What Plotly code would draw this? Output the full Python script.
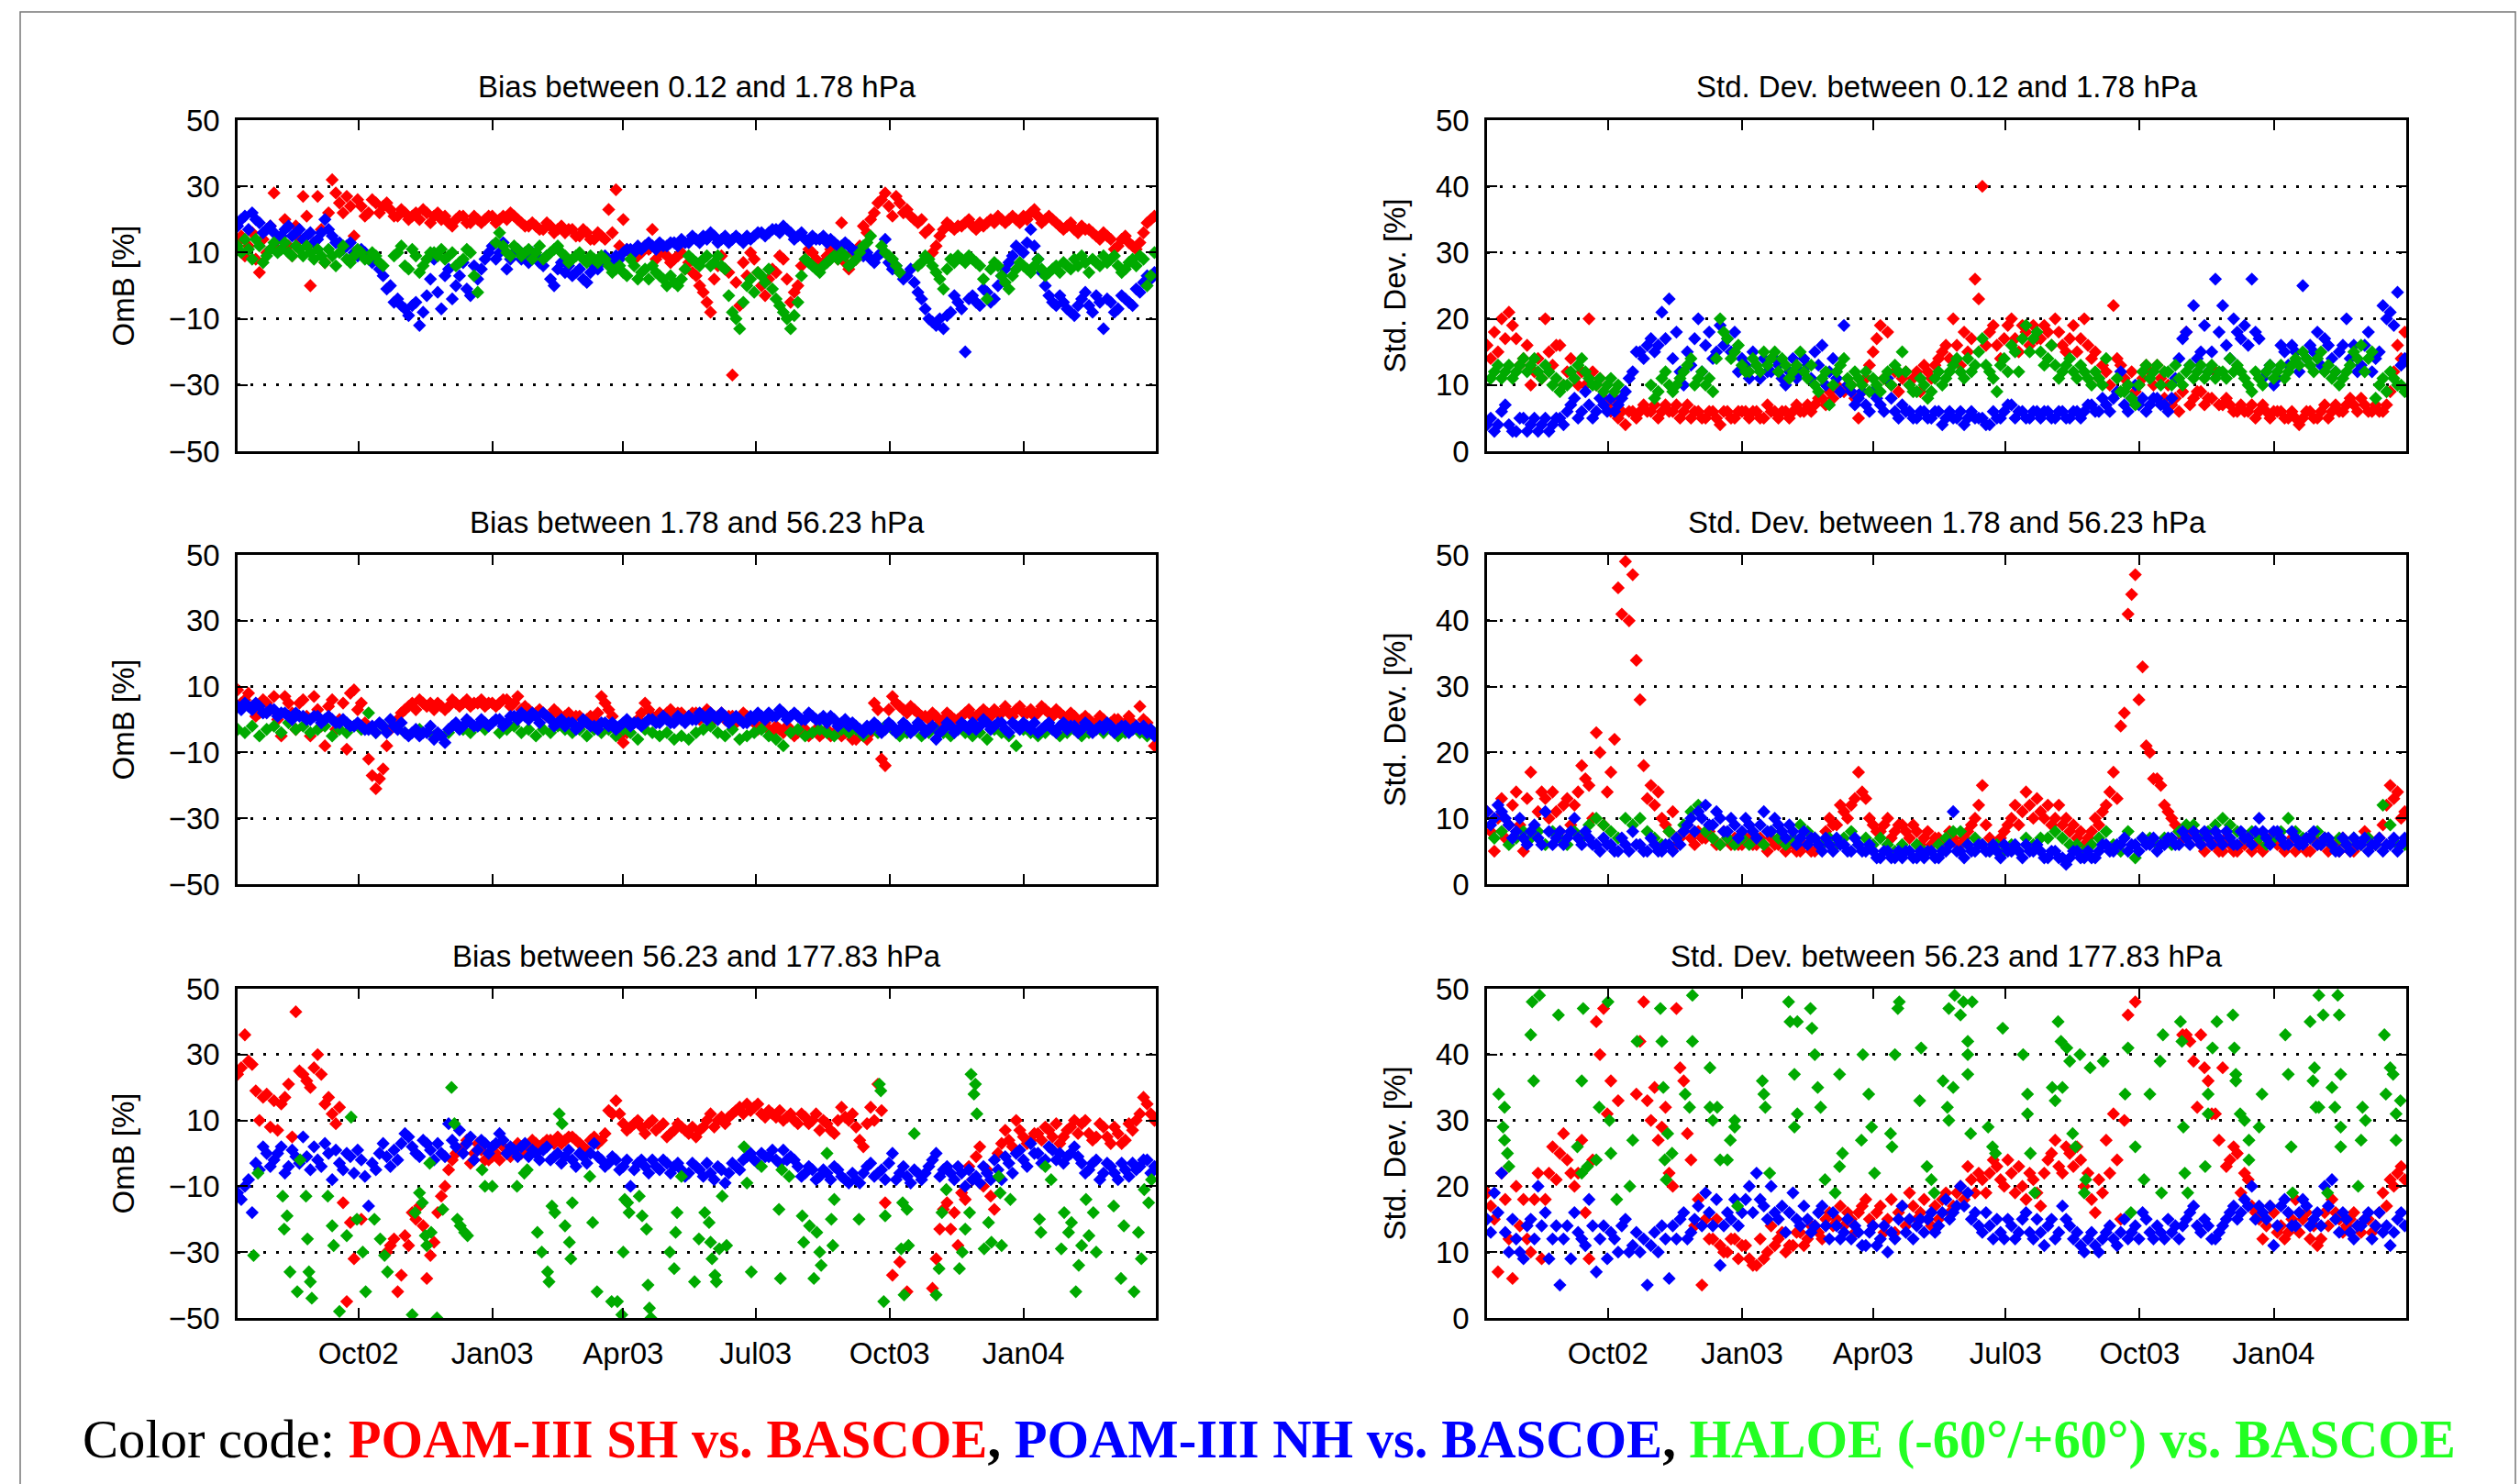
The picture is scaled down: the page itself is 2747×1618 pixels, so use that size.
import pandas as pd
import plotly.graph_objects as go

# ---------------------------------------------------------------- data ----
START = pd.Timestamp("2002-07-10")      # first sample of the regular series
STEP_DAYS = 5                           # "A" series: every 5 days from START
HALF_STEP_HOURS = 60                    # "B" series: offset 2.5 days from "A"
X_RANGE = ["2002-07-10", "2004-04-01"]
TICK_DATES = ["2002-10-01", "2003-01-01", "2003-04-01", "2003-07-01", "2003-10-01", "2004-01-01"]
TICK_LABELS = ["Oct02", "Jan03", "Apr03", "Jul03", "Oct03", "Jan04"]
BIAS_TICKS = [-50, -30, -10, 10, 30, 50]
STD_TICKS = [0, 10, 20, 30, 40, 50]

# --- Bias between 0.12 and 1.78 hPa
TL_SH = [13, 9, 16, 4, 10, 28, 15, 12, 18, 27, 0, 27, 7, 32, 25, 27, 15, 24, 22, 25,
         24, 23, 21, 22, 21, 20, 22, 21, 20, 19, 20, 21, 19, 20, 20, 21, 20, 20, 21, 19,
         18, 18, 17, 18, 17, 16, 17, 15, 16, 14, 15, 23, 29, 20, 10, 9, 12, 17, 10, 9,
         8, 10, 7, 3, -2, -8, 6, 5, -27, -6, 3, 8, 0, 2, 4, 8, -5, 0, 8, 10,
         6, 9, 10, 19, 5, 8, 18, 20, 25, 28, 21, 25, 23, 20, 20, 17, 12, 17, 18, 18,
         19, 18, 19, 19, 19, 20, 20, 20, 21, 22, 21, 20, 20, 18, 18, 17, 18, 17, 15, 16,
         14, 12, 15, 12, 13, 19, 21]
TL_SH_B = [15, 12, 8, 14, 18, 11, 20, 9, 14, 21, 13, 17, 22, 28, 22, 24, 26, 21, 26, 22,
           25, 21, 23, 20, 22, 23, 19, 22, 21, 18, 21, 19, 21, 19, 21, 19, 21, 22, 20, 18,
           19, 17, 19, 16, 18, 17, 15, 17, 14, 16, 14, 16, 12, 11, 8, 10, 11, 8, 10, 7,
           9, 5, 4, 0, -5, 2, 9, 4, 1, 7, 10, 4, -3, 5, 9, 2, -2, 6, 11, 8,
           7, 11, 8, 7, 10, 12, 16, 22, 26, 24, 27, 22, 21, 19, 16, 10, 15, 19, 17, 18,
           20, 17, 18, 20, 21, 19, 21, 19, 20, 23, 19, 21, 19, 17, 19, 16, 17, 16, 14, 15,
           11, 14, 13, 11, 16, 20]
TL_NH = [18, 21, 22, 19, 17, 16, 15, 18, 16, 14, 16, 14, 20, 15, 13, 12, 10, 11, 9, 8,
         3, 0, -4, -7, -6, -12, -3, 8, -7, 5, 0, 7, -3, 2, 8, 12, 10, 5, 10, 8,
         7, 9, 6, 2, 5, 4, 3, 5, 1, 6, 7, 8, 9, 10, 11, 12, 12, 12, 13, 12,
         13, 14, 13, 14, 15, 16, 13, 15, 14, 14, 15, 15, 16, 16, 17, 18, 16, 15, 14, 15,
         14, 13, 13, 12, 12, 10, 9, 8, 9, 14, 5, 4, 3, 1, -4, -10, -12, -13, -8, -5,
         -20, -3, -6, -2, -4, 3, 7, 12, 10, 17, 8, 0, -5, -3, -7, -9, -4, -6, -3, -13,
         -5, -7, -4, -6, -2, 3, 4]
TL_NH_B = [20, 17, 20, 16, 18, 14, 17, 15, 17, 15, 13, 16, 17, 13, 11, 13, 9, 10, 7, 5,
           -1, -5, -6, -9, -5, -8, 2, -2, 3, -4, 3, -1, 6, 5, 10, 8, 13, 8, 11, 9,
           10, 7, 9, 0, 7, 6, 4, 2, 4, 5, 9, 7, 8, 11, 10, 11, 13, 11, 12, 13,
           12, 13, 15, 13, 14, 15, 14, 13, 15, 13, 14, 16, 15, 17, 16, 17, 14, 16, 13, 14,
           15, 14, 12, 13, 11, 11, 10, 7, 10, 7, 6, 2, 5, -2, -7, -11, -10, -9, -3, -7,
           -4, -5, -1, -5, 0, 5, 9, 11, 13, 12, 4, -3, -6, -5, -8, -6, -2, -8, -5, -4,
           -8, -3, -5, -1, 1, 2]
TL_HALOE = [12, 14, 8, 12, 9, 13, 11, 10, 12, 9, 10, 11, 7, 9, 10, 8, 9, 10, 8, 9,
            6, None, 10, 6, 11, 4, 8, 10, 11, 9, 6, 8, 10, -2, None, None, 16, 10, 12, 9,
            11, 10, 8, 10, 12, 9, 8, 10, 7, 8, 9, 6, 5, 4, 8, 2, 5, 6, 3, 0,
            1, 2, 9, 7, 8, 6, 9, 5, -8, -13, 0, -2, 3, 5, -4, -8, -13, -5, 8, 6,
            4, 7, 9, 10, 6, 8, 12, 15, None, 10, 8, 4, None, None, 7, 8, 4, -1, 8, 9,
            7, 8, 6, -4, 7, 3, -1, 5, 6, 4, 8, 3, 5, 4, 6, 8, 9, 4, 7, 9,
            8, 6, 5, 8, 9, 0, 10]
TL_HALOE_B = [10, 11, 14, 7, 11, 10, 13, 9, 11, 12, 8, 9, 11, 6, 12, 7, 11, 8, 10, 7,
              None, 9, 12, 5, 9, 6, 10, 9, 8, 10, 7, 11, 3, None, None, 13, 12, 9, 11, 10,
              8, 12, 9, 11, 10, 7, 9, 8, 9, 7, 8, 4, 6, 3, 6, 4, 2, 4, 2, 3,
              0, 5, 8, 6, 9, 7, 6, -3, -10, -5, 2, 4, 1, -1, -6, -10, -9, 3, 7, 5,
              6, 8, 8, 9, 7, 10, 13, None, 12, 9, 6, None, None, 6, 9, 6, 2, 5, 7, 8,
              9, 7, 2, 5, 6, 1, 3, 7, 5, 6, 5, 4, 6, 7, 5, 6, 7, 8, 6, 7,
              9, 4, 7, 6, 8, 3]

# --- Std. Dev. between 0.12 and 1.78 hPa
TR_SH = [16, 18, 20, 21, 17, 14, 10, 14, 20, 13, 16, 12, 11, 12, 20, 10, 8, 6, 5, 4,
         6, 6, 6, 7, 6, 6, 7, 6, 5, 6, 5, 6, 4, 6, 5, 6, 5, 6, 5, 6,
         5, 6, 6, 6, 7, 7, 8, 9, 10, 9, 10, 5, 11, 15, 19, 18, 12, 11, 10, 12,
         13, 11, 14, 16, 20, 13, 15, 26, 40, 18, 16, 17, 20, 15, 18, 19, 17, 18, 20, 16,
         17, 15, 20, 14, 11, 12, 22, 13, 10, 9, 11, 12, 13, 8, 7, 6, 18, 8, 9, 8,
         12, 7, 7, 6, 6, 7, 6, 6, 6, 6, 5, 5, 5, 6, 5, 7, 6, 6, 7, 7,
         8, 6, 7, 6, 9, 16, 18]
TR_SH_B = [14, 15, 17, 19, 13, 16, 12, 11, 15, 16, 10, 14, 10, 10, 12, 11, 7, 8, 6, 6,
           5, 7, 6, 5, 7, 6, 5, 7, 6, 5, 6, 5, 6, 5, 6, 6, 6, 5, 7, 6,
           6, 5, 7, 6, 6, 8, 7, 8, 9, 10, 8, 9, 13, 17, 11, 10, 9, 12, 11, 9,
           12, 13, 15, 14, 16, 18, 17, 23, 16, 19, 14, 19, 17, 19, 16, 17, 19, 16, 18, 15,
           19, 17, 16, 15, 13, 10, 14, 11, 12, 10, 13, 10, 11, 10, 8, 9, 7, 9, 7, 8,
           7, 8, 6, 7, 6, 5, 7, 5, 6, 5, 6, 4, 6, 5, 6, 5, 7, 6, 8, 6,
           7, 6, 6, 7, 12, 14]
TR_NH = [4, 3, 6, 4, 3, 5, 4, 3, 5, 4, 5, 6, 8, 6, 7, 6, 7, 8, 7, 9,
         12, 15, 16, 15, 21, 23, 18, 10, 13, 20, 16, 14, 19, 17, 18, 14, 11, 13, 14, 12,
         13, 10, 14, 12, 13, 15, 16, 12, 11, 19, 9, 8, 7, 9, 7, 11, 6, 7, 6, 5,
         6, 5, 6, 5, 5, 6, 5, 5, 5, 4, 5, 6, 7, 6, 5, 6, 5, 6, 5, 6,
         5, 6, 6, 7, 6, 7, 8, 12, 6, 10, 8, 7, 8, 7, 8, 14, 18, 22, 15, 12,
         26, 22, 14, 18, 19, 26, 17, 12, 10, 16, 13, 15, 25, 16, 18, 17, 14, 15, 20, 16,
         13, 18, 14, 22, 21, 24, 14]
TR_NH_B = [5, 4, 7, 3, 5, 3, 5, 4, 3, 5, 4, 7, 5, 9, 5, 8, 6, 6, 8, 11,
           15, 14, 17, 16, 17, 14, 12, 15, 17, 12, 18, 15, 16, 15, 12, 13, 15, 11, 12, 14,
           11, 12, 11, 14, 11, 13, 10, 14, 9, 10, 7, 9, 6, 8, 6, 8, 5, 6, 5, 6,
           5, 6, 4, 6, 5, 4, 6, 5, 4, 6, 5, 7, 5, 6, 5, 6, 6, 5, 6, 5,
           6, 5, 7, 6, 8, 6, 9, 7, 8, 7, 6, 8, 7, 6, 11, 17, 13, 14, 19, 15,
           18, 16, 20, 17, 16, 18, 11, 13, 11, 15, 16, 12, 14, 15, 13, 16, 12, 16, 14, 12,
           16, 12, 15, 20, 19, 13]
TR_HALOE = [None, 12, 11, 13, 12, 14, 13, 12, 13, 10, 9, 10, 11, 14, 11, 10, 9, 11, 10, None,
            None, None, None, 8, 11, 10, 10, 12, 14, 11, 10, 9, 20, 17, 15, 13, 12, 13, 15, 14,
            12, 13, 12, 15, 11, 10, 11, 7, 12, 14, 10, 11, 12, 11, 9, 12, 13, 15, 10, 9,
            10, 9, 12, 11, 13, 12, 14, 13, 17, 12, 9, 14, 16, 12, 19, 17, 15, 14, 13, 12,
            14, 11, 12, 10, 11, 14, None, 9, 10, 7, 12, 11, 13, 12, 10, 11, 12, 11, 13, 12,
            11, 12, 14, 13, 11, 9, 11, 12, 11, 13, 12, 14, 15, 13, 14, 12, 11, 10, 12, 15,
            16, 14, 8, 11, 12, 10, 9]
TR_HALOE_B = [11, 13, 12, 11, 13, 12, 14, 11, 12, 11, 10, 12, 13, 12, 10, 11, 10, 9, None, None,
              None, None, 10, 9, 12, 9, 11, 13, 10, 12, 11, 14, 18, 14, 16, 12, 14, 12, 13, 15,
              14, 11, 13, 12, 13, 9, 12, 10, 13, 11, 12, 10, 9, 10, 11, 10, 12, 12, 9, 11,
              8, 11, 10, 12, 14, 11, 12, 15, 13, 11, 13, 12, 15, 17, 15, 18, 13, 16, 11, 13,
              12, 13, 11, 12, 10, None, 11, 9, 8, 10, 13, 12, 10, 12, 13, 10, 13, 12, 11, 13,
              12, 11, 12, 12, 10, 12, 10, 13, 12, 11, 13, 13, 14, 12, 15, 13, 12, 11, 13, 14,
              12, 15, 10, 9, 11, 10]

# --- Bias between 1.78 and 56.23 hPa
ML_SH = [9, 6, 4, 2, 5, 7, -5, 5, -3, 6, -5, 3, -8, 6, 0, -9, 9, 5, -12, -21,
         -15, -3, 0, 3, 5, 6, 4, 3, 4, 4, 5, 5, 4, 5, 4, 5, 5, 6, 5, 3,
         3, 2, 2, 1, 2, 1, 0, 1, 0, 0, 7, 3, -3, -7, -2, 0, 5, 1, 2, 2,
         1, 2, 1, 2, 1, 2, 1, 0, 1, 0, 1, -1, -2, -3, -2, -4, -3, -4, -3, -4,
         -5, -3, -4, -5, -4, -6, -5, -4, 3, -14, 7, 4, 2, 3, 1, 0, 1, 0, 1, 0,
         2, 1, 2, 2, 3, 2, 2, 3, 2, 3, 2, 3, 1, 2, 0, 1, 0, 0, -1, 0,
         -1, 0, -1, -1, 4, -1, -8]
ML_SH_B = [5, 8, 1, 6, 3, 0, 7, 2, 5, 1, 7, -2, 4, -3, 5, 8, 3, -1, -17, -18,
           -8, -1, 2, 4, 3, 5, 5, 5, 3, 6, 4, 6, 5, 6, 5, 4, 6, 4, 7, 4,
           2, 3, 1, 3, 0, 2, 1, -1, 1, 2, 5, 1, -5, -4, -1, 2, 3, 0, 1, 3,
           2, 0, 2, 0, 3, 0, 2, 1, -1, 2, 0, -3, -1, -4, -3, -2, -5, -3, -5, -3,
           -4, -5, -3, -4, -6, -4, -6, 5, -12, 3, 5, 3, 4, 2, 1, 2, -1, 2, 0, 1,
           3, 1, 3, 1, 2, 4, 1, 4, 2, 1, 4, 2, 3, 1, 2, -1, 1, -1, 1, -2,
           0, -2, 1, -2, 0, -3]
ML_NH = [4, 5, 3, 4, 2, 3, 2, 1, 2, 1, 0, 1, 0, 0, -1, -1, -2, -2, -3, -4,
         -2, 0, -3, -4, -4, -5, -4, -6, -5, -3, -1, -2, -1, -2, -1, -1, 0, -1, 1, 2,
         0, 1, 2, 0, -1, -2, -1, -2, -1, -2, -1, -2, -3, -1, -2, -1, -1, 0, -1, 0,
         -1, 0, 1, 0, 1, 2, 0, 1, 0, 0, -1, 0, 1, 2, 1, 2, 1, 1, 0, 1,
         0, -1, 0, -1, -2, -2, -4, -3, -2, -3, -2, -3, -2, -3, -2, -3, -6, -3, -2, -3,
         -2, -1, -2, -1, -2, -1, -4, -2, -1, -3, -4, -2, -3, -2, -3, -2, -3, -2, -3, -3,
         -2, -3, -2, -3, -3, -4, -5]
ML_NH_B = [3, 4, 5, 2, 3, 1, 2, 0, 1, 0, 1, -1, 1, -1, 0, -2, -1, -3, -2, -1,
           -4, -2, -1, -5, -3, -4, -2, -4, -7, -2, -3, 0, -2, 0, -2, 0, -2, 1, 0, 1,
           2, -1, 1, -2, 0, -1, -3, 0, -2, -3, -1, -1, -2, 0, -1, -2, 0, -1, 1, -1,
           1, -1, 0, 2, 0, 1, 2, -1, 1, -1, 1, 2, 0, 1, 3, 0, 2, 0, 2, 0,
           1, 1, -2, 0, -1, -3, -2, -1, -4, -1, -4, -1, -4, -1, -4, -2, -4, -1, -4, -1,
           -3, -3, 0, -3, -1, -3, -1, -3, -2, -1, -3, -1, -4, -1, -2, -4, -1, -4, -2, -1,
           -4, -2, -4, -2, -2, -3]
ML_HALOE = [-3, -4, -2, -5, -3, -2, -4, -1, -3, -2, -4, -3, -2, -5, -3, -4, -2, -3, 2, -4,
            -2, None, None, -4, None, -3, None, -5, None, -4, None, -3, -4, -2, -3, None, -4, -3, -2, -4,
            -3, -5, -3, -4, -2, -3, -4, -3, -5, -3, -4, -3, -5, -3, -4, -6, -3, -4, -5, -4,
            -6, -5, -6, -4, -3, -2, -4, -5, -3, -6, -5, -4, -3, -5, -6, -8, -4, -3, -5, -4,
            -3, -4, -5, -3, -4, -3, -5, None, -4, -2, -3, -5, -4, -3, -5, -4, -3, -4, -5, -3,
            -4, -5, -4, -6, -3, -4, -5, -8, -3, -4, -5, -4, -3, -5, -4, -3, -5, -4, -3, -4,
            -3, -5, -4, -3, -4, -5, -4]

# --- Std. Dev. between 1.78 and 56.23 hPa
MR_SH = [11, 5, 13, 9, 14, 5, 17, 11, 13, 14, 8, 13, 12, 18, 15, 23, 9, 17, 45, 49,
         47, 28, 13, 12, 10, 8, 6, 8, 7, 8, 7, 7, 6, 7, 7, 6, 7, 6, 6, 7,
         6, 5, 6, 5, 6, 5, 6, 10, 9, 11, 12, 17, 13, 9, 8, 10, 8, 9, 7, 8,
         7, 6, 7, 6, 7, 6, 8, 10, 15, 7, 6, 8, 10, 9, 14, 10, 11, 12, 10, 9,
         8, 7, 6, 8, 9, 12, 17, 24, 41, 47, 33, 20, 16, 12, 10, 8, 7, 8, 6, 7,
         6, 5, 6, 5, 6, 5, 6, 6, 7, 6, 6, 5, 6, 5, 6, 7, 6, 5, 6, 5,
         6, 7, 6, 9, 15, 14, 11]
MR_SH_B = [8, 10, 7, 12, 9, 13, 8, 14, 10, 11, 12, 9, 14, 16, 10, 20, 14, 22, 41, 40,
           34, 18, 15, 14, 9, 11, 7, 9, 6, 7, 8, 6, 8, 6, 6, 7, 6, 7, 5, 6,
           7, 6, 5, 6, 5, 6, 8, 9, 12, 10, 13, 14, 10, 8, 9, 7, 9, 8, 9, 6,
           8, 7, 6, 8, 6, 7, 9, 12, 9, 6, 7, 9, 12, 11, 12, 13, 10, 9, 12, 10,
           9, 8, 7, 10, 11, 14, 13, 26, 44, 28, 21, 16, 15, 11, 9, 7, 8, 7, 5, 6,
           5, 7, 5, 6, 7, 6, 5, 7, 6, 5, 7, 6, 5, 7, 6, 5, 6, 7, 5, 6,
           8, 6, 7, 12, 13, 10]
MR_NH = [11, 10, 11, 9, 8, 7, 8, 7, 11, 6, 8, 7, 10, 6, 7, 6, 7, 6, 5, 6,
         8, 6, 5, 6, 5, 6, 7, 8, 10, 11, 12, 9, 10, 8, 9, 8, 9, 7, 11, 8,
         9, 7, 8, 7, 6, 7, 5, 6, 7, 6, 5, 6, 5, 5, 4, 5, 4, 4, 5, 4,
         4, 5, 4, 5, 11, 5, 6, 5, 6, 5, 5, 6, 5, 5, 6, 5, 5, 4, 5, 4,
         4, 5, 4, 4, 5, 6, 5, 6, 5, 6, 7, 6, 5, 6, 7, 6, 7, 8, 6, 7,
         8, 6, 7, 6, 7, 6, 10, 7, 8, 7, 6, 7, 6, 7, 6, 7, 6, 5, 6, 7,
         6, 5, 6, 5, 6, 5, 7]
MR_NH_B = [9, 12, 10, 7, 10, 6, 9, 6, 8, 7, 6, 8, 7, 8, 6, 5, 6, 5, 7, 5,
           6, 5, 7, 5, 6, 5, 6, 9, 8, 10, 9, 11, 8, 10, 7, 10, 8, 9, 8, 10,
           8, 9, 6, 8, 7, 6, 7, 5, 6, 5, 7, 5, 6, 4, 5, 4, 5, 5, 4, 5,
           5, 4, 5, 6, 5, 4, 5, 6, 5, 6, 4, 5, 6, 4, 5, 6, 4, 5, 4, 3,
           5, 4, 5, 4, 6, 5, 6, 7, 6, 5, 6, 7, 6, 7, 6, 8, 6, 7, 8, 6,
           7, 8, 6, 8, 7, 8, 8, 6, 8, 6, 8, 6, 7, 8, 6, 7, 5, 7, 5, 6,
           7, 6, 7, 6, 7, 6]
MR_HALOE = [None, 7, 8, 6, 7, 8, 7, 8, 6, 8, 7, 6, 8, 7, 9, 10, 9, 8, 7, 10,
            9, 10, 8, 7, 6, 8, 7, 9, 11, 12, 8, 7, 6, 7, 6, 7, 6, 7, 6, 8,
            7, 6, 7, 9, 8, 7, 6, 7, 6, 7, 8, 6, 7, 6, 7, 6, 5, 6, 5, 6,
            5, 5, 6, 7, 8, 8, 6, 7, 6, 5, 6, 5, 6, 5, 7, 6, 7, 7, 8, 7,
            6, 6, 5, 6, 7, 8, 6, 5, 8, 4, 7, 7, 6, 7, 6, 8, 9, 9, 7, 8,
            9, 10, 9, 8, 7, 8, 7, 6, 7, 8, 10, 8, 7, 7, 8, 7, 6, 7, 6, 7,
            6, 7, 6, 12, 9, 6, 6]

# --- Bias between 56.23 and 177.83 hPa
BL_SH = [24, 36, 27, 10, 18, 16, 15, 21, 43, 24, 20, 30, 15, 12, 14, -45, -32, -20, None, None,
         None, -28, -42, -25, -18, -16, -38, -27, -13, -5, 0, 2, -3, 3, -2, -1, -2, 0, 1, 0,
         2, 3, 3, 4, 5, 4, 5, 3, 1, 5, 4, 13, 16, 9, 8, 10, 6, 10, 8, 5,
         7, 8, 6, 5, 8, 12, 10, 9, 12, 14, 15, 14, 12, 13, 11, 10, 12, 9, 11, 10,
         7, 9, 6, 14, 10, 8, 2, 14, 21, -15, -37, -33, -42, None, None, None, -32, -17, -23, -28,
         -14, -8, 2, -5, -17, 3, 4, 10, 5, 4, 6, 8, 5, 3, 7, 10, 9, 6, 5, 8,
         3, 6, 4, 7, 12, 15, 10]
BL_SH_B = [26, 28, 19, 17, 8, 7, 17, 5, 25, 22, 26, 24, 17, 9, -15, -21, None, None, None, None,
           -30, -26, -37, -28, -20, -22, -31, -18, -10, -2, 1, 4, 0, 1, -2, 0, 2, -1, 3, 1,
           4, 2, 4, 3, 3, 5, 4, 2, 4, 3, 6, 12, 12, 7, 9, 8, 9, 7, 9, 6,
           9, 7, 8, 7, 10, 8, 11, 11, 13, 12, 13, 15, 11, 12, 13, 11, 10, 12, 9, 12,
           10, 7, 10, 11, 12, 4, 9, 10, 13, None, None, None, None, None, None, -41, -23, -15, -18, -12,
           -4, -1, -10, -13, 0, 7, 2, 7, 3, 6, 4, 7, 9, 5, 8, 6, 10, 4, 9, 5,
           8, 3, 9, 10, 17, 12]
BL_NH = [-12, -10, -18, -5, 0, -2, 2, -4, -1, 5, -5, -2, 3, -8, -3, 0, -6, -2, -16, -5,
         3, -4, -2, 6, 2, -1, 3, -2, 0, 9, 2, 0, 5, 1, 3, 2, 6, 0, 1, 2,
         -1, 0, 1, -2, 0, -1, -2, 0, -3, 3, -2, -3, -2, -4, -10, -3, -4, -2, -5, -3,
         -4, -5, -6, -4, -7, -6, -4, -9, -3, -5, -1, -2, 0, -1, -2, 1, -1, -4, -6, -5,
         -7, -6, -4, -7, -9, -8, -6, -3, -6, -8, 0, -6, -7, -5, -8, -4, 0, -5, -6, -4,
         -10, -8, -9, -6, -2, -8, -3, 0, -2, 3, 0, -2, 1, 0, -1, 2, -3, -5, -2, -6,
         -4, -8, -5, -3, -4, -2, -4]
BL_NH_B = [-14, -8, -3, 2, -4, 0, -6, 1, -3, -1, 2, -4, 0, 1, -5, -1, 1, -7, -3, 0,
           -1, 1, 3, 5, 0, 4, 1, 3, -1, 4, 7, 3, -2, 4, 0, 3, 4, 2, -1, 3,
           1, -2, 2, -1, -3, 1, -4, -1, 0, -1, -4, -1, -5, -2, -5, -2, -6, -4, -2, -6,
           -3, -7, -3, -5, -3, -8, -5, -6, -4, -2, 0, -3, -1, 1, -3, -2, -2, -7, -4, -8,
           -5, -8, -5, -8, -6, -9, -4, -7, -5, -3, -8, -4, -9, -6, -6, -2, -7, -4, -8, -6,
           -5, -7, -4, -8, -5, -1, -6, 1, -4, 0, -3, 2, -2, -3, 0, -1, -6, -3, -8, -3,
           -6, -3, -7, -5, -2, -6]
# HALOE occultations are irregular: day offset from START, value
BL_HALOE_DAY = [11, 14, 31, 32, 34, 36, 41, 43, 47, 48,
                49, 50, 51, 62, 65, 66, 70, 78, 75, 82,
                86, 88, 94, 98, 101, 103, 120, 122, 125, 127,
                129, 130, 132, 133, 137, 141, 147, 149, 151, 153,
                156, 158, 168, 170, 175, 192, 197, 199, 206, 209,
                213, 214, 216, 218, 221, 223, 225, 228, 229, 230,
                242, 244, 247, 257, 261, 264, 265, 266, 268, 269,
                276, 278, 281, 282, 283, 284, 297, 300, 301, 302,
                305, 314, 317, 321, 324, 325, 326, 328, 329, 331,
                333, 336, 348, 350, 353, 360, 372, 373, 374, 379,
                388, 389, 393, 396, 398, 400, 401, 405, 408, 409,
                410, 427, 441, 442, 444, 445, 456, 457, 458, 460,
                461, 465, 480, 482, 484, 487, 496, 498, 500, 503,
                504, 506, 508, 507, 513, 516, 518, 523, 524, 525,
                531, 551, 552, 555, 559, 566, 568, 571, 573, 576,
                578, 580, 583, 585, 588, 590, 602, 607, 609, 616,
                619, 621, 623, 626, 628]
BL_HALOE_VAL = [-31, -6, -13, -23, -19, -36, -42, -2, -13, -26,
                -36, -39, -44, -13, -22, -28, -48, 11, -25, -20,
                -30, -42, -20, -26, -31, -36, -49, -18, -12, -15,
                -25, -28, -3, -24, -50, -17, 20, 9, -20, -22,
                -24, -25, -5, -10, -10, -10, -6, -5, -24, -30,
                -36, -39, -16, -18, 12, 9, -22, -27, -32, -15,
                -7, -21, -42, -45, -45, -49, -30, -14, -15, -18,
                -13, -19, -23, -40, -47, -50, -30, -35, -24, -18,
                -7, -39, -26, -18, -21, -27, -32, -37, -39, -29,
                -13, -28, 2, -9, -36, -4, -17, -38, -5, -7,
                -19, -27, -22, -38, -24, -30, -34, 0, -20, -28,
                -14, -20, 21, 19, -45, -19, -29, -15, -43, -17,
                -28, 6, -43, -35, -18, -11, -35, -30, -23, -18,
                24, 18, 12, 21, -29, -21, -27, -7, -12, -28,
                -14, -20, -24, -4, -8, -29, -18, -24, -21, -42,
                -34, -28, -14, -25, -18, -30, -16, -38, -22, -42,
                -24, -32, -11, -15, -8]

# --- Std. Dev. between 56.23 and 177.83 hPa
BR_SH = [19, 15, 22, 12, 20, 18, 10, 22, 18, 26, 25, 24, 20, 27, 9, 45, 47, 36, 33, None,
         None, 42, 33, 35, 29, 22, 47, 36, 24, 18, 15, 12, 11, 10, 12, 11, 9, 8, 9, 14,
         12, 10, 11, 13, 12, 14, 12, 16, 15, 14, 15, 16, 18, 14, 17, 15, 13, 17, 19, 15,
         18, 14, 15, 19, 17, 20, 23, 19, 21, 22, 23, 20, 22, 23, 18, 21, 17, 24, 27, 22,
         25, 26, 20, 18, 21, 27, 31, 15, 46, 48, None, None, None, None, None, None, 43, 39, 43, 36,
         31, 38, 24, 25, 22, 17, 15, 14, 16, 14, 13, 18, 15, 12, 11, 16, 18, 15, 14, 16,
         13, 15, 14, 19, 21, 22, 21]
BR_SH_B = [17, 7, 18, 6, 14, 12, 18, 9, 22, 21, 28, 22, 22, 16, 24, 40, 31, None, None, None,
           34, 48, 30, 27, 32, 20, 38, 28, 14, 5, 12, 15, 10, 12, 9, 11, 8, 12, 10, 11,
           13, 11, 13, 11, 14, 13, 15, 14, 17, 16, 13, 17, 15, 16, 13, 18, 16, 14, 17, 16,
           15, 17, 18, 16, 19, 18, 21, 22, 19, 24, 21, 24, 19, 20, 22, 19, 22, 25, 23, 26,
           23, 24, 22, 16, 19, 22, 24, 30, None, None, None, None, None, None, None, 43, 42, 32, 38, 31,
           27, 23, 26, 19, 21, 16, 12, 17, 13, 12, 15, 13, 16, 14, 12, 14, 16, 13, 15, 14,
           15, 13, 16, 17, 20, 23]
BR_NH = [15, 19, 22, 10, 12, 9, 15, 20, 16, 12, 5, 14, 16, 12, 18, 7, 14, 13, 10, 15,
         11, 10, 5, 13, 14, 6, 12, 16, 13, 17, 19, 14, 8, 16, 18, 16, 20, 22, 17, 20,
         15, 13, 19, 14, 15, 14, 17, 12, 14, 13, 12, 13, 11, 14, 12, 10, 12, 17, 15, 14,
         13, 16, 14, 18, 16, 20, 19, 16, 13, 14, 15, 12, 14, 13, 16, 12, 13, 14, 12, 17,
         14, 13, 10, 13, 10, 13, 12, 13, 12, 14, 16, 13, 14, 12, 13, 12, 15, 17, 13, 14,
         12, 14, 16, 15, 18, 20, 17, 15, 11, 17, 16, 14, 18, 14, 16, 20, 21, 13, 15, 12,
         14, 16, 14, 13, 11, 15, 14]
BR_NH_B = [13, 16, 13, 15, 10, 14, 12, 14, 9, 14, 12, 9, 13, 11, 14, 12, 9, 12, 14, 10,
           13, 12, 11, 10, 12, 14, 15, 12, 15, 14, 16, 18, 14, 15, 14, 18, 16, 18, 15, 16,
           17, 16, 15, 17, 13, 16, 14, 16, 12, 15, 14, 11, 13, 11, 14, 13, 15, 13, 12, 15,
           15, 13, 16, 15, 17, 17, 15, 14, 16, 12, 13, 15, 12, 15, 13, 15, 11, 15, 13, 15,
           12, 11, 12, 11, 12, 14, 11, 15, 13, 12, 15, 12, 13, 15, 14, 14, 16, 14, 15, 12,
           13, 15, 17, 16, 17, 15, 16, 17, 14, 18, 14, 16, 17, 15, 14, 17, 15, 16, 13, 14,
           15, 12, 16, 14, 13, 16]
BR_HALOE_DAY = [8, 12, 11, 12, 14, 15, 31, 36, 30, 32,
                49, 65, 66, 62, 65, 69, 75, 77, 83, 84,
                85, 89, 98, 100, 103, 119, 120, 121, 122, 123,
                124, 127, 136, 139, 141, 141, 153, 153, 155, 158,
                160, 165, 167, 170, 170, 172, 189, 190, 191, 194,
                207, 208, 211, 211, 213, 213, 222, 223, 225, 227,
                229, 232, 239, 242, 244, 242, 257, 258, 262, 264,
                266, 277, 278, 280, 282, 283, 297, 298, 302, 305,
                307, 313, 316, 317, 317, 320, 321, 325, 327, 330,
                330, 330, 332, 333, 344, 347, 349, 354, 368, 371,
                371, 373, 376, 388, 390, 392, 394, 395, 398, 400,
                402, 404, 407, 410, 411, 414, 423, 438, 440, 445,
                451, 442, 455, 463, 464, 462, 476, 477, 478, 479,
                481, 493, 495, 495, 498, 501, 512, 513, 514, 514,
                517, 520, 523, 523, 530, 532, 548, 550, 552, 553,
                565, 567, 568, 569, 571, 571, 574, 577, 580, 582,
                584, 585, 586, 586, 586, 598, 600, 601, 603, 616,
                617, 620, 622, 624, 624, 627]
BR_HALOE_VAL = [34, 32, 29, 27, 25, 23, 48, 49, 43, 36,
                46, 36, 47, 26, 22, 23, 24, 32, 48, 30,
                25, 18, 20, 27, 42, 47, 42, 35, 24, 21,
                28, 25, 34, 32, 49, 42, 38, 32, 30, 32,
                24, 24, 27, 29, 30, 17, 36, 34, 32, 22,
                48, 45, 37, 29, 45, 31, 47, 44, 40, 35,
                32, 21, 19, 23, 25, 37, 27, 40, 34, 29,
                22, 28, 26, 40, 47, 48, 33, 41, 23, 21,
                19, 36, 32, 30, 47, 35, 49, 46, 48, 37,
                40, 42, 28, 48, 29, 26, 25, 44, 40, 34,
                31, 25, 19, 35, 33, 45, 42, 35, 41, 39,
                28, 26, 40, 19, 21, 38, 39, 34, 41, 26,
                21, 16, 34, 19, 43, 39, 45, 42, 29, 22,
                19, 23, 34, 31, 41, 45, 46, 41, 37, 36,
                31, 30, 27, 24, 29, 34, 43, 37, 26, 19,
                45, 36, 38, 32, 32, 49, 46, 19, 35, 32,
                49, 46, 37, 29, 26, 20, 27, 32, 30, 43,
                34, 38, 37, 31, 27, 33]

TITLES = ["Bias between 0.12 and 1.78 hPa", "Std. Dev. between 0.12 and 1.78 hPa",
          "Bias between 1.78 and 56.23 hPa", "Std. Dev. between 1.78 and 56.23 hPa",
          "Bias between 56.23 and 177.83 hPa", "Std. Dev. between 56.23 and 177.83 hPa"]
YTITLES = ["OmB [%]", "Std. Dev. [%]"]

# ---------------------------------------------------------------- style ---
W, H = 2747, 1618
RED, BLUE, GREEN = "#ff0000", "#0000ff", "#00aa00"
LEG_GREEN = "#22ff22"
SANS = "Liberation Sans, Arial, sans-serif"
SERIF = "Liberation Serif, Times New Roman, serif"
COL_PX = [(259, 1260), (1621, 2623)]              # plot frame left/right (px)
ROW_PX = [(131, 492), (605, 964), (1078, 1437)]   # plot frame top/bottom (px)
TITLE_Y_PX = [95, 570, 1042]
YTITLE_X_PX = [134, 1520]


def px_x(p):
    return p / W


def px_y(p):
    return 1 - p / H


def dates_a(vals):
    return [START + pd.Timedelta(days=STEP_DAYS * i) for i in range(len(vals))]


def dates_b(vals):
    return [START + pd.Timedelta(hours=HALF_STEP_HOURS) + pd.Timedelta(days=STEP_DAYS * i)
            for i in range(len(vals))]


def dates_irr(days):
    return [START + pd.Timedelta(days=d) for d in days]


def S(xs, ys, c):
    return (xs, ys, c)


panels = [
    ([S(dates_a(TL_SH), TL_SH, RED), S(dates_b(TL_SH_B), TL_SH_B, RED),
      S(dates_a(TL_NH), TL_NH, BLUE), S(dates_b(TL_NH_B), TL_NH_B, BLUE),
      S(dates_a(TL_HALOE), TL_HALOE, GREEN), S(dates_b(TL_HALOE_B), TL_HALOE_B, GREEN)], "bias"),
    ([S(dates_a(TR_SH), TR_SH, RED), S(dates_b(TR_SH_B), TR_SH_B, RED),
      S(dates_a(TR_NH), TR_NH, BLUE), S(dates_b(TR_NH_B), TR_NH_B, BLUE),
      S(dates_a(TR_HALOE), TR_HALOE, GREEN), S(dates_b(TR_HALOE_B), TR_HALOE_B, GREEN)], "std"),
    ([S(dates_a(ML_SH), ML_SH, RED), S(dates_b(ML_SH_B), ML_SH_B, RED),
      S(dates_a(ML_HALOE), ML_HALOE, GREEN),
      S(dates_a(ML_NH), ML_NH, BLUE), S(dates_b(ML_NH_B), ML_NH_B, BLUE)], "bias"),
    ([S(dates_a(MR_SH), MR_SH, RED), S(dates_b(MR_SH_B), MR_SH_B, RED),
      S(dates_a(MR_HALOE), MR_HALOE, GREEN),
      S(dates_a(MR_NH), MR_NH, BLUE), S(dates_b(MR_NH_B), MR_NH_B, BLUE)], "std"),
    ([S(dates_a(BL_SH), BL_SH, RED), S(dates_b(BL_SH_B), BL_SH_B, RED),
      S(dates_a(BL_NH), BL_NH, BLUE), S(dates_b(BL_NH_B), BL_NH_B, BLUE),
      S(dates_irr(BL_HALOE_DAY), BL_HALOE_VAL, GREEN)], "bias"),
    ([S(dates_a(BR_SH), BR_SH, RED), S(dates_b(BR_SH_B), BR_SH_B, RED),
      S(dates_a(BR_NH), BR_NH, BLUE), S(dates_b(BR_NH_B), BR_NH_B, BLUE),
      S(dates_irr(BR_HALOE_DAY), BR_HALOE_VAL, GREEN)], "std"),
]

fig = go.Figure()
layout = dict(width=W, height=H, margin=dict(l=0, r=0, t=0, b=0, autoexpand=False),
              paper_bgcolor="white", plot_bgcolor="white", showlegend=False,
              font=dict(family=SANS, size=33, color="black"))
annotations = []

for i, (series, kind) in enumerate(panels):
    n = i + 1
    row, col = divmod(i, 2)
    xname = "x" if n == 1 else f"x{n}"
    yname = "y" if n == 1 else f"y{n}"
    for xs, ys, c in series:
        fig.add_trace(go.Scatter(x=xs, y=ys, mode="markers",
                                 marker=dict(symbol="diamond", size=11, color=c, line=dict(width=0)),
                                 xaxis=xname, yaxis=yname, hoverinfo="skip"))
    xl, xr = COL_PX[col]
    yt, yb = ROW_PX[row]
    common = dict(showline=True, mirror="allticks", linewidth=2.5, linecolor="black",
                  ticks="inside", ticklen=11, tickwidth=2, tickcolor="black",
                  zeroline=False, automargin=False,
                  tickfont=dict(family=SANS, size=33, color="black"))
    layout["xaxis" if n == 1 else f"xaxis{n}"] = dict(
        common, domain=[px_x(xl), px_x(xr)], anchor=yname, type="date", range=X_RANGE,
        tickvals=TICK_DATES, ticktext=TICK_LABELS, showticklabels=(row == 2),
        showgrid=False, ticklabelstandoff=8)
    layout["yaxis" if n == 1 else f"yaxis{n}"] = dict(
        common, domain=[px_y(yb), px_y(yt)], anchor=xname,
        range=[-50, 50] if kind == "bias" else [0, 50],
        tickvals=BIAS_TICKS if kind == "bias" else STD_TICKS,
        showgrid=True, gridcolor="black", gridwidth=2.5, griddash="2.5px,11.5px",
        ticklabelstandoff=10)
    annotations.append(dict(text=TITLES[i], x=px_x((xl + xr) / 2), y=px_y(TITLE_Y_PX[row]),
                            xref="paper", yref="paper", showarrow=False,
                            xanchor="center", yanchor="middle",
                            font=dict(family=SANS, size=33, color="black")))
    annotations.append(dict(text=YTITLES[col], x=px_x(YTITLE_X_PX[col]), y=px_y((yt + yb) / 2),
                            xref="paper", yref="paper", showarrow=False, textangle=-90,
                            xanchor="center", yanchor="middle",
                            font=dict(family=SANS, size=33, color="black")))

legend_text = ("Color code: <b><span style='color:%s'>POAM-III SH vs. BASCOE</span>, "
               "<span style='color:%s'>POAM-III NH vs. BASCOE</span>, "
               "<span style='color:%s'>HALOE (-60°/+60°) vs. BASCOE</span></b>"
               % (RED, BLUE, LEG_GREEN))
annotations.append(dict(text=legend_text, x=px_x(1383), y=px_y(1569), xref="paper", yref="paper",
                        showarrow=False, xanchor="center", yanchor="middle",
                        font=dict(family=SERIF, size=58.6, color="black")))
layout["annotations"] = annotations
layout["shapes"] = [dict(type="rect", xref="paper", yref="paper",
                         x0=px_x(22), x1=px_x(2742), y0=-0.02, y1=px_y(13),
                         line=dict(color="#777777", width=1.5), fillcolor="rgba(0,0,0,0)",
                         layer="below")]
fig.update_layout(**layout)
fig.write_html("out.html", config={"displayModeBar": False},
               post_script="document.body.style.margin='0';document.body.style.padding='0';"
                           "document.body.style.overflow='hidden';")
